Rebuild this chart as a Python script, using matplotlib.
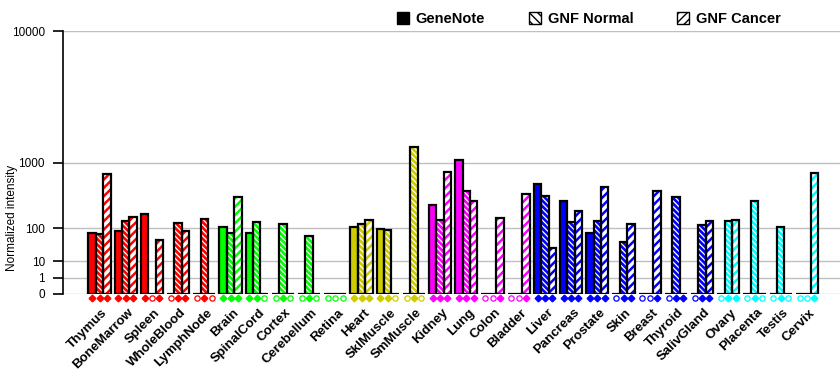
import numpy as np
import matplotlib
matplotlib.use('Agg')
import matplotlib.pyplot as plt
from matplotlib.patches import Patch
from matplotlib import transforms

plt.rcParams['font.family'] = ['Liberation Sans', 'DejaVu Sans']

# Данные: ткани, цвета групп, значения трёх серий
tissues = ['Thymus', 'BoneMarrow', 'Spleen', 'WholeBlood', 'LymphNode',
           'Brain', 'SpinalCord', 'Cortex', 'Cerebellum', 'Retina',
           'Heart', 'SklMuscle', 'SmMuscle',
           'Kidney', 'Lung', 'Colon', 'Bladder',
           'Liver', 'Pancreas', 'Prostate', 'Skin', 'Breast', 'Thyroid', 'SalivGland',
           'Ovary', 'Placenta', 'Testis', 'Cervix']
colors = ['#ff0000'] * 5 + ['#00ff00'] * 5 + ['#cccc00'] * 3 + ['#ff00ff'] * 4 + \
         ['#0000ff'] * 7 + ['#00ffff'] * 4

genenote = [79, 88, 194, 0, 0,
            108, 79, 0, 0, 0,
            108, 95, 0,
            276, 1068, 0, 0,
            546, 319, 79, 0, 0, 0, 0,
            0, 0, 0, 0]
gnf_normal = [74, 143, 0, 131, 157,
              79, 137, 125, 67, 0,
              125, 90, 1436,
              146, 447, 0, 0,
              379, 133, 143, 47, 0, 366, 117,
              143, 319, 108, 0]
gnf_cancer = [742, 169, 53, 88, 0,
              363, 0, 0, 0, 0,
              150, 0, 0,
              783, 319, 164, 397,
              31, 214, 509, 125, 447, 0, 139,
              150, 0, 0, 764]

# Отметки под столбцами: 1 - закрашенная, 0 - пустая
present = ['111', '111', '101', '011', '010',
           '111', '110', '010', '010', '000',
           '111', '110', '010',
           '111', '111', '001', '001',
           '111', '111', '111', '011', '001', '011', '011',
           '011', '010', '010', '001']

p = np.log10(2)
fwd = lambda v: np.power(np.clip(v, 0, None), p)
inv = lambda v: np.power(np.clip(v, 0, None), 1 / p)

fig = plt.figure(figsize=(8.4, 3.85), dpi=100)
ax = fig.add_axes([63 / 840, 1 - 294 / 385, 1 - 63 / 840, 263 / 385])
ax.set_yscale('function', functions=(fwd, inv))

x = np.arange(len(tissues))
w = 0.28
offs = [-w, 0, w]


def draw_bar(xc, h, face, hatch_col=None, hatch=None, hlw=1.0):
    if hatch:
        b = ax.bar(xc, h, w, color=face, edgecolor=hatch_col, hatch=hatch, linewidth=0, zorder=3)
        for r in b:
            if hasattr(r, 'set_hatch_linewidth'):
                r.set_hatch_linewidth(hlw)
    else:
        ax.bar(xc, h, w, color=face, linewidth=0, zorder=3)
    ax.bar(xc, h, w, fill=False, edgecolor='black', linewidth=1.6, zorder=4)


tr = transforms.blended_transform_factory(ax.transData, ax.transAxes)
for i in range(len(tissues)):
    c = colors[i]
    draw_bar(x[i] + offs[0], genenote[i], c)
    draw_bar(x[i] + offs[1], gnf_normal[i], c, 'white', '\\\\\\\\\\\\', 0.9)
    draw_bar(x[i] + offs[2], gnf_cancer[i], 'white', c, '////', 1.8)
    # маркеры под осью
    for k in range(3):
        if present[i][k] == '1':
            ax.plot(x[i] + offs[k], -0.014, marker='D', ms=3.4, color=c, mec=c,
                    transform=tr, clip_on=False, zorder=5)
        else:
            ax.plot(x[i] + offs[k], -0.014, marker='o', ms=3.8, mfc='white', mec=c,
                    mew=0.9, transform=tr, clip_on=False, zorder=5)

ax.set_ylim(0, 10000)
ax.set_xlim((63 - 99.5) / 26.2, (840 - 99.5) / 26.2)
ax.set_yticks([0, 1, 10, 100, 1000, 10000])
ax.set_yticklabels(['0', '1', '10', '100', '1000', '10000'], fontsize=8.5)
ax.yaxis.grid(True, color='#c0c0c0', linewidth=1)
ax.set_axisbelow(True)
for s in ['top', 'right', 'bottom']:
    ax.spines[s].set_visible(False)
ax.spines['left'].set_linewidth(1.2)
ax.tick_params(axis='y', length=7, width=1.2, pad=6)
ax.tick_params(axis='x', length=0, pad=9)
ax.set_ylabel('Normalized intensity', fontsize=8.5)
ax.yaxis.set_label_coords((18 - 63) / 777, (294 - 218) / 263)

ax.set_xticks(x)
ax.set_xticklabels(tissues, rotation=45, ha='right', va='top', rotation_mode='anchor',
                   fontsize=9.5, fontweight='bold')
shift = transforms.ScaledTranslation(2 / 100, 0, fig.dpi_scale_trans)
for lab in ax.get_xticklabels():
    lab.set_transform(lab.get_transform() + shift)

handles = [Patch(facecolor='black', edgecolor='black'),
           Patch(facecolor='white', edgecolor='black', hatch='\\\\\\\\'),
           Patch(facecolor='white', edgecolor='black', hatch='////')]
fig.legend(handles, ['GeneNote', 'GNF Normal', 'GNF Cancer'], ncol=3, loc='center',
           bbox_to_anchor=(589 / 840, 1 - 19 / 385), frameon=False,
           handlelength=0.8, handleheight=0.8, handletextpad=0.5, columnspacing=3.0,
           prop={'weight': 'bold', 'size': 10.5})

fig.savefig('out.png', dpi=100)
